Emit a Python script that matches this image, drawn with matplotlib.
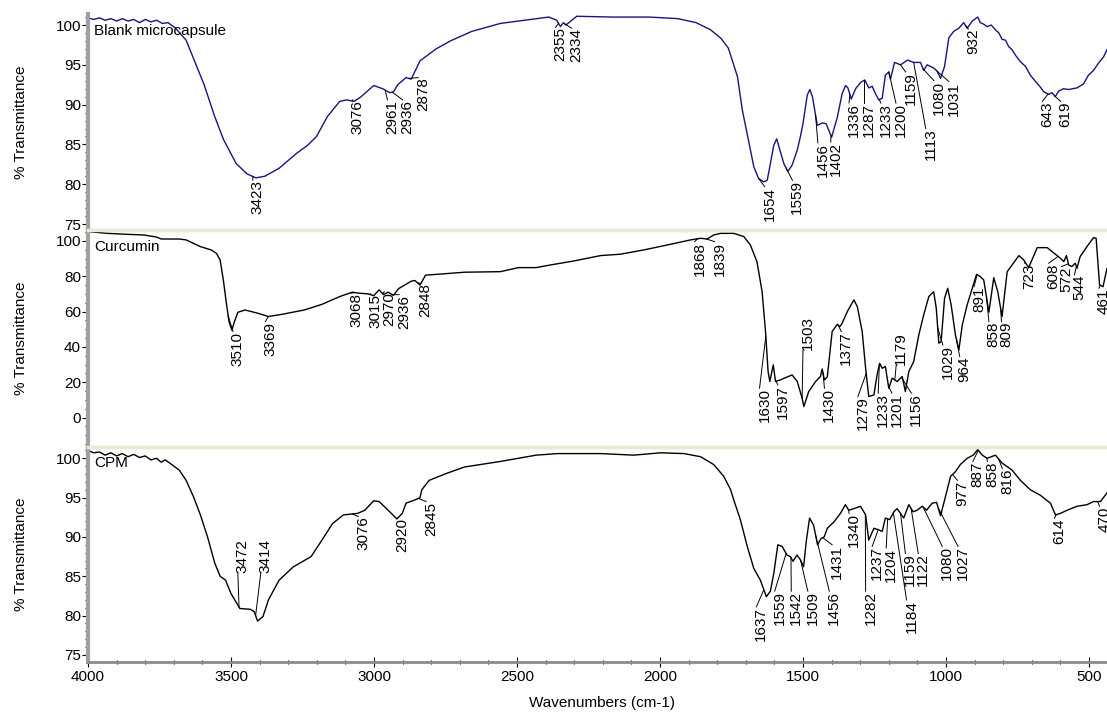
import numpy as np
import matplotlib
matplotlib.use("Agg")
import matplotlib.pyplot as plt
from matplotlib.ticker import MultipleLocator

plt.rcParams['font.family'] = ['Liberation Sans', 'DejaVu Sans']
plt.rcParams['font.size'] = 11

# ---------------- Blank microcapsule ----------------
blank_wn = [4000, 3980, 3960, 3940, 3920, 3900, 3880, 3860, 3840, 3820, 3800, 3780, 3760, 3740,
            3720, 3694, 3657, 3631, 3594, 3557, 3526,
            3482, 3444, 3413, 3382, 3332, 3270, 3232, 3201, 3163, 3120, 3095, 3070, 3045, 3001,
            2970, 2945, 2932, 2917, 2888, 2870, 2839, 2783, 2733, 2658, 2558, 2433, 2389, 2361,
            2348, 2338, 2329, 2291, 2165, 2038, 1937, 1874, 1823, 1786, 1761, 1729, 1712, 1695,
            1672, 1655, 1637, 1625, 1614, 1602, 1592, 1579, 1567, 1553, 1538, 1520, 1509, 1501,
            1485, 1476, 1467, 1450, 1431, 1419, 1400, 1380, 1363, 1351, 1343, 1331, 1316, 1298,
            1284, 1270, 1258, 1247, 1235, 1223, 1212, 1200, 1194, 1180, 1159, 1134, 1113, 1089,
            1078, 1066, 1043, 1031, 1019, 1005, 990, 973, 955, 938, 926, 908, 889, 880, 868, 856,
            842, 827, 815, 804, 792, 781, 769, 757, 740, 722, 705, 687, 670, 658, 641, 629, 618,
            606, 589, 571, 542, 519, 502, 484, 467, 449, 437]
blank_t = [100.9, 100.7, 100.9, 100.6, 100.8, 100.5, 100.8, 100.5, 100.7, 100.3, 100.7, 100.4, 100.6, 100.2,
           100.3, 99.6, 98.1, 95.8, 92.5, 88.5, 85.6,
           82.6, 81.3, 80.8, 81.0, 82.0, 83.9, 84.9, 86.0, 88.5, 90.4, 90.6, 90.4, 91.0, 92.4,
           92.0, 91.5, 91.6, 92.5, 93.4, 93.2, 95.5, 97.0, 98.0, 99.2, 100.2, 100.8, 101.0, 100.6,
           99.8, 100.3, 100.0, 101.1, 101.0, 101.0, 100.8, 100.3, 99.4, 98.3, 97.1, 93.5, 89.3, 86.3,
           82.2, 80.7, 80.3, 80.5, 82.6, 84.9, 85.7, 84.1, 82.6, 81.6, 82.4, 84.3, 86.0, 87.4,
           91.2, 91.9, 91.0, 87.4, 87.7, 87.6, 85.9, 88.4, 91.4, 92.4, 92.1, 90.7, 92.0, 92.8,
           93.1, 92.1, 92.3, 91.4, 90.6, 90.8, 93.7, 94.1, 93.2, 95.3, 95.0, 95.6, 95.3, 95.3,
           94.3, 95.0, 94.6, 94.2, 93.3, 94.8, 98.4, 99.2, 99.6, 100.3, 99.6, 100.5, 101.0, 100.3,
           100.1, 99.8, 100.0, 99.4, 99.0, 98.2, 98.1, 97.3, 96.9, 96.2, 95.4, 94.8, 93.7, 92.9,
           92.2, 91.6, 91.3, 91.5, 91.0, 91.7, 92.0, 91.9, 92.1, 92.6, 93.7, 94.3, 95.2, 96.0, 96.9]
blank_peaks = [3423, 3076, 2961, 2936, 2878, 2355, 2334, 1654, 1559, 1456, 1402, 1336, 1287,
               1233, 1200, 1159, 1113, 1080, 1031, 932, 643, 619]

# ---------------- Curcumin ----------------
curc_wn = [4000, 3932, 3870, 3806, 3760, 3744, 3681, 3657, 3607, 3569, 3551, 3538, 3526, 3517,
           3507, 3497, 3488, 3476, 3451, 3407, 3369, 3320, 3244, 3182, 3120, 3076, 3057, 3020,
           3001, 2982, 2967, 2951, 2932, 2914, 2870, 2857, 2839, 2820, 2683, 2558, 2495, 2433,
           2383, 2300, 2208, 2138, 2057, 1975, 1893, 1858, 1835, 1812, 1788, 1742, 1707, 1684,
           1661, 1643, 1631, 1622, 1616, 1604, 1596, 1579, 1561, 1538, 1520, 1503, 1497, 1480,
           1456, 1439, 1433, 1425, 1415, 1398, 1380, 1371, 1363, 1345, 1322, 1310, 1293, 1281,
           1270, 1252, 1241, 1232, 1223, 1212, 1200, 1188, 1171, 1153, 1142, 1130, 1113, 1095,
           1078, 1060, 1043, 1034, 1025, 1017, 1005, 994, 982, 967, 955, 943, 926, 908, 893, 880,
           868, 850, 833, 819, 804, 786, 769, 745, 728, 711, 681, 646, 600, 588, 579, 571, 560,
           548, 542, 531, 507, 484, 475, 463, 451, 437]
curc_t = [105.3, 104.3, 103.8, 103.4, 102.2, 101.1, 101.1, 100.6, 96.8, 94.9, 93.0, 89.2, 77.0, 65.7,
          54.3, 49.5, 54.3, 59.6, 60.9, 59.1, 57.2, 58.5, 60.9, 64.1, 68.5, 71.0, 70.5, 70.0,
          69.0, 72.3, 69.6, 71.0, 69.2, 73.0, 77.2, 77.6, 75.0, 80.6, 82.3, 82.6, 84.9, 84.9,
          86.4, 88.7, 91.7, 92.5, 94.9, 97.7, 100.6, 101.5, 101.1, 103.4, 104.3, 104.3, 102.5, 97.7,
          88.3, 71.3, 48.7, 26.0, 20.4, 29.8, 20.4, 21.3, 22.6, 24.1, 20.4, 10.9, 6.2, 14.7,
          20.4, 23.2, 27.5, 21.3, 23.0, 48.7, 52.8, 51.5, 53.4, 60.0, 66.6, 62.8, 48.7, 27.9,
          11.9, 12.8, 24.1, 30.7, 27.9, 28.9, 16.6, 22.3, 20.4, 23.2, 14.7, 26.0, 31.7, 46.8,
          58.1, 68.5, 71.3, 61.9, 42.1, 43.0, 67.5, 73.2, 63.8, 46.8, 38.3, 52.4, 63.8, 73.2, 81.1, 79.8,
          77.9, 59.6, 79.2, 71.3, 57.2, 82.6, 86.4, 91.7, 89.2, 84.9, 96.2, 96.2, 90.2, 88.3, 91.7, 86.4, 85.5,
          87.4, 84.5, 91.1, 96.8, 101.9, 101.5, 75.1, 74.1, 84.5]
curc_peaks = [3510, 3369, 3068, 3015, 2970, 2936, 2848, 1868, 1839, 1630, 1597, 1503, 1430,
              1377, 1279, 1233, 1201, 1179, 1156, 1029, 964, 891, 858, 809, 723, 608, 572,
              544, 461]

# ---------------- CPM ----------------
cpm_wn = [4000, 3980, 3960, 3940, 3920, 3900, 3880, 3860, 3840, 3820, 3800, 3780, 3760, 3744,
          3730, 3707, 3681, 3657, 3631, 3607,
          3582, 3557, 3538, 3519, 3500, 3469, 3432, 3419, 3407, 3388, 3369, 3332, 3282, 3220,
          3182, 3145, 3107, 3057, 3032, 3001, 2982, 2945, 2920, 2901, 2888, 2857, 2839, 2833,
          2807, 2745, 2683, 2558, 2433, 2358, 2208, 2092, 1998, 1916, 1858, 1812, 1777, 1753,
          1742, 1719, 1695, 1672, 1649, 1637, 1628, 1614, 1602, 1588, 1573, 1556, 1544, 1535,
          1521, 1509, 1498, 1488, 1477, 1463, 1449, 1437, 1426, 1415, 1392, 1369, 1352, 1340,
          1322, 1299, 1281, 1270, 1252, 1235, 1223, 1212, 1197, 1182, 1171, 1159, 1148, 1130,
          1115, 1101, 1083, 1068, 1048, 1033, 1019, 1002, 984, 967, 950, 926, 905, 889, 873,
          856, 827, 804, 769, 740, 705, 670, 635, 617, 600, 576, 542, 507, 484, 460, 437]
cpm_t = [101.0, 100.7, 100.8, 100.4, 100.7, 100.3, 100.6, 100.2, 100.5, 100.1, 100.3, 99.8, 100.0, 99.5,
         99.8, 99.2, 98.5, 97.2, 95.1, 92.8,
         90.0, 86.7, 85.0, 84.5, 82.8, 80.9, 80.8, 80.5, 79.3, 79.9, 82.0, 84.5, 86.2, 87.5,
         89.6, 91.7, 92.8, 93.0, 93.4, 94.6, 94.5, 93.2, 92.3, 93.0, 94.3, 94.7, 95.0, 96.0,
         97.2, 98.1, 98.9, 99.6, 100.4, 100.6, 100.6, 100.4, 100.7, 100.6, 100.2, 99.2, 97.7, 96.0,
         94.7, 92.2, 88.8, 86.0, 84.5, 83.3, 82.4, 83.1, 85.4, 89.0, 88.8, 87.7, 87.5, 86.9,
         87.7, 87.1, 86.2, 89.6, 92.4, 91.5, 89.0, 89.8, 90.0, 91.1, 91.9, 93.0, 94.1, 93.4,
         93.6, 93.9, 92.8, 89.6, 91.1, 90.9, 90.7, 92.4, 92.2, 93.2, 93.6, 93.0, 92.4, 94.1,
         93.2, 93.4, 93.9, 93.4, 94.3, 94.4, 92.7, 95.1, 97.7, 98.3, 99.2, 100.0, 100.4, 101.1, 100.4,
         100.0, 100.4, 99.4, 98.5, 97.2, 96.0, 95.3, 94.3, 92.8, 93.0, 93.4, 93.9, 94.1, 94.5, 94.5, 95.6]
cpm_peaks = [3472, 3414, 3076, 2920, 2845, 1637, 1559, 1542, 1509, 1456, 1431, 1340, 1282,
             1237, 1204, 1184, 1159, 1122, 1080, 1027, 977, 887, 858, 816, 614, 470]

# label placement (text x in cm-1, anchor y, text above the curve or not)
blank_lab_x = [3407, 3058, 2936, 2883, 2829, 2348, 2292, 1617, 1520, 1431, 1386, 1322, 1270,
               1211, 1158, 1124, 1054, 1025, 973, 905, 646, 582]
blank_lab_y = [80.5, 90.6, 90.6, 90.6, 93.4, 99.7, 99.6, 79.7, 80.5, 85.2, 85.3, 90.2, 90.2,
               90.2, 90.2, 94.1, 87.0, 93.0, 92.9, 99.5, 90.4, 90.4]
blank_lab_up = [False] * len(blank_peaks)

curc_lab_x = [3476, 3363, 3063, 2995, 2947, 2895, 2820, 1862, 1792, 1635, 1571, 1483, 1408,
              1349, 1291, 1220, 1172, 1157, 1104, 994, 935, 885, 833, 789, 708, 624, 579, 534, 448]
curc_lab_y = [48.7, 54.3, 70.4, 70.0, 71.3, 69.6, 76.0, 99.6, 99.6, 16.6, 18.5, 38.3, 16.6,
              48.7, 11.9, 13.8, 13.8, 29.8, 13.8, 41.1, 34.5, 74.1, 54.3, 54.3, 87.4, 87.4, 85.5, 80.8, 73.2]
curc_lab_up = [False] * len(curc_peaks)
curc_lab_up[curc_peaks.index(1503)] = True
curc_lab_up[curc_peaks.index(1179)] = True

cpm_lab_x = [3459, 3379, 3038, 2901, 2801, 1646, 1582, 1524, 1466, 1391, 1381, 1322, 1264,
             1241, 1192, 1121, 1125, 1080, 996, 941, 943, 889, 838, 786, 604, 446]
cpm_lab_y = [85.4, 85.4, 92.6, 92.4, 94.5, 81.1, 83.1, 83.1, 83.1, 83.1, 89.0, 93.0, 83.1,
             88.8, 88.6, 82.0, 87.9, 87.9, 88.8, 88.8, 97.2, 99.6, 99.6, 98.7, 92.4, 93.9]
cpm_lab_up = [False] * len(cpm_peaks)
cpm_lab_up[0] = True
cpm_lab_up[1] = True

BEIGE = '#ece9d8'
GREY = '#a0a0a0'


def draw_panel(ax, wn, t, color, name, peaks, lab_x, lab_y, lab_up, ylim, major, minor):
    ax.plot(wn, t, color=color, lw=1.0)
    ax.set_xlim(4000, 437)
    ax.set_ylim(*ylim)
    xs = np.array(wn[::-1], dtype=float)
    ys = np.array(t[::-1], dtype=float)
    for p, lx, ly, up in zip(peaks, lab_x, lab_y, lab_up):
        cy = np.interp(p, xs, ys)
        ax.plot([p, lx + 17], [cy, ly], color='black', lw=0.7, clip_on=False)
        ax.text(lx, ly, str(p), rotation=90, ha='center',
                va='bottom' if up else 'top', fontsize=11, clip_on=False)
    ax.text(0.006, 0.955, name, transform=ax.transAxes, ha='left', va='top', fontsize=11)
    ax.yaxis.set_major_locator(MultipleLocator(major))
    ax.yaxis.set_minor_locator(MultipleLocator(minor))
    ax.tick_params(axis='y', which='major', length=4, width=0.8, pad=1, labelsize=11)
    ax.tick_params(axis='y', which='minor', length=2, width=0.8)
    ax.spines['left'].set_color(GREY)
    ax.spines['left'].set_linewidth(3)
    ax.spines['right'].set_visible(False)
    for s in ('top', 'bottom'):
        ax.spines[s].set_color(BEIGE)
        ax.spines[s].set_linewidth(2.5)
    ax.set_facecolor('none')


fig = plt.figure(figsize=(11.07, 7.13), dpi=100)
ax1 = fig.add_axes([0.0795, 0.67742, 0.9205, 0.3029])
ax2 = fig.add_axes([0.0795, 0.37377, 0.9205, 0.30365])
ax3 = fig.add_axes([0.0795, 0.07153, 0.9205, 0.30224])

draw_panel(ax1, blank_wn, blank_t, '#16167e', 'Blank microcapsule', blank_peaks,
           blank_lab_x, blank_lab_y, blank_lab_up, (74.25, 101.38), 5, 1)
draw_panel(ax2, curc_wn, curc_t, 'black', 'Curcumin', curc_peaks,
           curc_lab_x, curc_lab_y, curc_lab_up, (-16.4, 106.2), 20, 5)
draw_panel(ax3, cpm_wn, cpm_t, 'black', 'CPM', cpm_peaks,
           cpm_lab_x, cpm_lab_y, cpm_lab_up, (74.1, 101.5), 5, 1)

ax1.spines['top'].set_visible(False)
for ax in (ax1, ax2):
    ax.set_xticks([])
ax3.xaxis.set_major_locator(MultipleLocator(500))
ax3.xaxis.set_minor_locator(MultipleLocator(100))
ax3.spines['bottom'].set_color('#8a8a8a')
ax3.spines['bottom'].set_linewidth(2)
ax3.tick_params(axis='x', which='major', direction='inout', length=7, width=0.8, pad=2, labelsize=11)
ax3.tick_params(axis='x', which='minor', direction='inout', length=3, width=0.8)

for ax in (ax1, ax2, ax3):
    ax.set_ylabel('% Transmittance', fontsize=11)
    ax.yaxis.set_label_coords(-0.059, 0.5)

fig.text(602 / 1107, 1 - 703 / 713, 'Wavenumbers (cm-1)', ha='center', va='center', fontsize=11)

fig.savefig('out.png', dpi=100)
